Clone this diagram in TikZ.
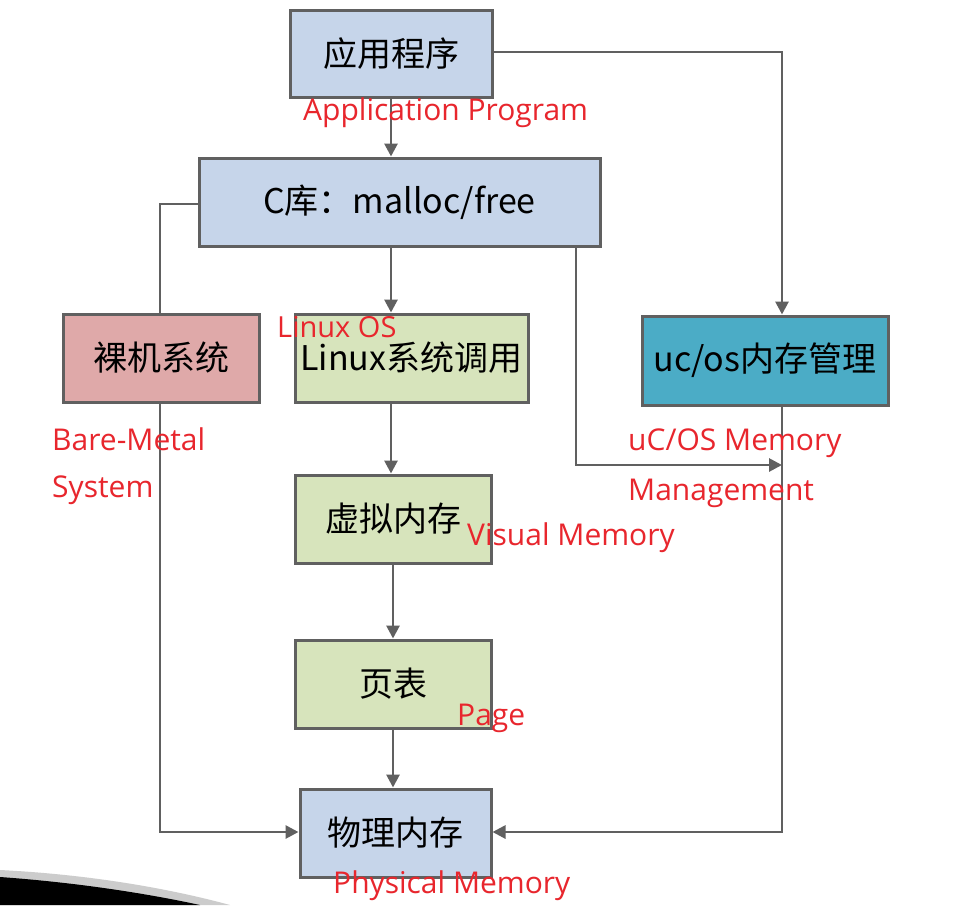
\documentclass[tikz,border=0pt]{standalone}
\usepackage{fontspec}
\setmainfont{Liberation Sans}
\newfontfamily\cjk{Noto Sans CJK SC}
\newfontfamily\lbl{Open Sans}
\usetikzlibrary{arrows.meta,calc}
\definecolor{boxblue}{HTML}{C6D5EA}
\definecolor{boxpink}{HTML}{DFA9A9}
\definecolor{boxgreen}{HTML}{D7E4BC}
\definecolor{boxteal}{HTML}{4BACC6}
\definecolor{linegray}{HTML}{606060}
\definecolor{lblred}{HTML}{E8262D}
\begin{document}
\begin{tikzpicture}[x=1pt,y=-1pt,
  box/.style={draw=linegray,line width=3pt,rectangle,inner sep=0pt,
    font=\cjk\fontsize{34}{40}\selectfont,text=black},
  conn/.style={draw=linegray,line width=2.8pt},
  arr/.style={conn,-{Triangle[length=13pt,width=13pt]}},
  lab/.style={text=lblred,font=\lbl\fontsize{30}{36}\selectfont,inner sep=0pt,anchor=west}]
\useasboundingbox (0,0) rectangle (974,905);
\fill[white] (0,0) rectangle (974,905);
% boxes
\node[box,fill=boxblue,minimum width=202pt,minimum height=87pt] (app) at (391,53.5) {应用程序};
\node[box,fill=boxblue,minimum width=401pt,minimum height=88pt] (clib) at (399.5,202) {C库：malloc/free};
\node[box,fill=boxpink,minimum width=196pt,minimum height=88pt] (bare) at (161,358) {裸机系统};
\node[box,fill=boxgreen,minimum width=233pt,minimum height=88pt] (linux) at (411.5,358) {Linux系统调用};
\node[box,fill=boxteal,minimum width=246pt,minimum height=89pt] (ucos) at (765,360.5) {uc/os内存管理};
\node[box,fill=boxgreen,minimum width=196pt,minimum height=88pt] (virt) at (393,519) {虚拟内存};
\node[box,fill=boxgreen,minimum width=196pt,minimum height=88pt] (page) at (393,684) {页表};
\node[box,fill=boxblue,minimum width=191pt,minimum height=88pt] (phys) at (395.5,833) {物理内存};
% helper coordinates
\coordinate (apptop) at (782,52);
\coordinate (cleft) at (160,204);
\coordinate (branch) at (576,246);
\coordinate (branchturn) at (576,465);
\coordinate (ucline) at (782,465);
\coordinate (bareturn) at (160,832);
\coordinate (ucturn) at (782,832);
% connectors
\draw[arr] (app.south) -- (app.south |- clib.north);
\draw[arr] (app.east |- apptop) -- (apptop) -- (apptop |- ucos.north);
\draw[conn] (clib.west |- cleft) -- (cleft) -- (cleft |- bare.north);
\draw[arr] (cleft |- bare.south) -- (bareturn) -- (bareturn -| phys.west);
\draw[arr] (app.south |- clib.south) -- (app.south |- linux.north);
\draw[arr] (branch) -- (branchturn) -- (ucline);
\draw[arr] (apptop |- ucos.south) -- (ucturn) -- (ucturn -| phys.east);
\draw[arr] (app.south |- linux.south) -- (app.south |- virt.north);
\draw[arr] (virt.south) -- (page.north);
\draw[arr] (page.south) -- (page.south |- phys.north);
% red labels
\node[lab] (l1) at (303,113) {Application Program};
\node[lab,font=\lbl\fontsize{29}{34}\selectfont] (l2) at (277,327) {Linux OS};
\node[lab] (l3) at (52,439) {Bare-Metal};
\node[lab] (l4) at (52,490) {System};
\node[lab] (l5) at (628,443) {uC/OS Memory};
\node[lab] (l6) at (628,493) {Management};
\node[lab] (l7) at (467,538) {Visual Memory};
\node[lab] (l8) at (457,718) {Page};
\node[lab] (l9) at (333,886) {Physical Memory};
% slide decoration bottom-left
\fill[gray!40] (0,870) .. controls (80,874) and (160,886) .. (230,905) -- (0,905) -- cycle;
\fill[black] (0,877) .. controls (70,882) and (140,892) .. (200,905) -- (0,905) -- cycle;
\end{tikzpicture}
\end{document}
